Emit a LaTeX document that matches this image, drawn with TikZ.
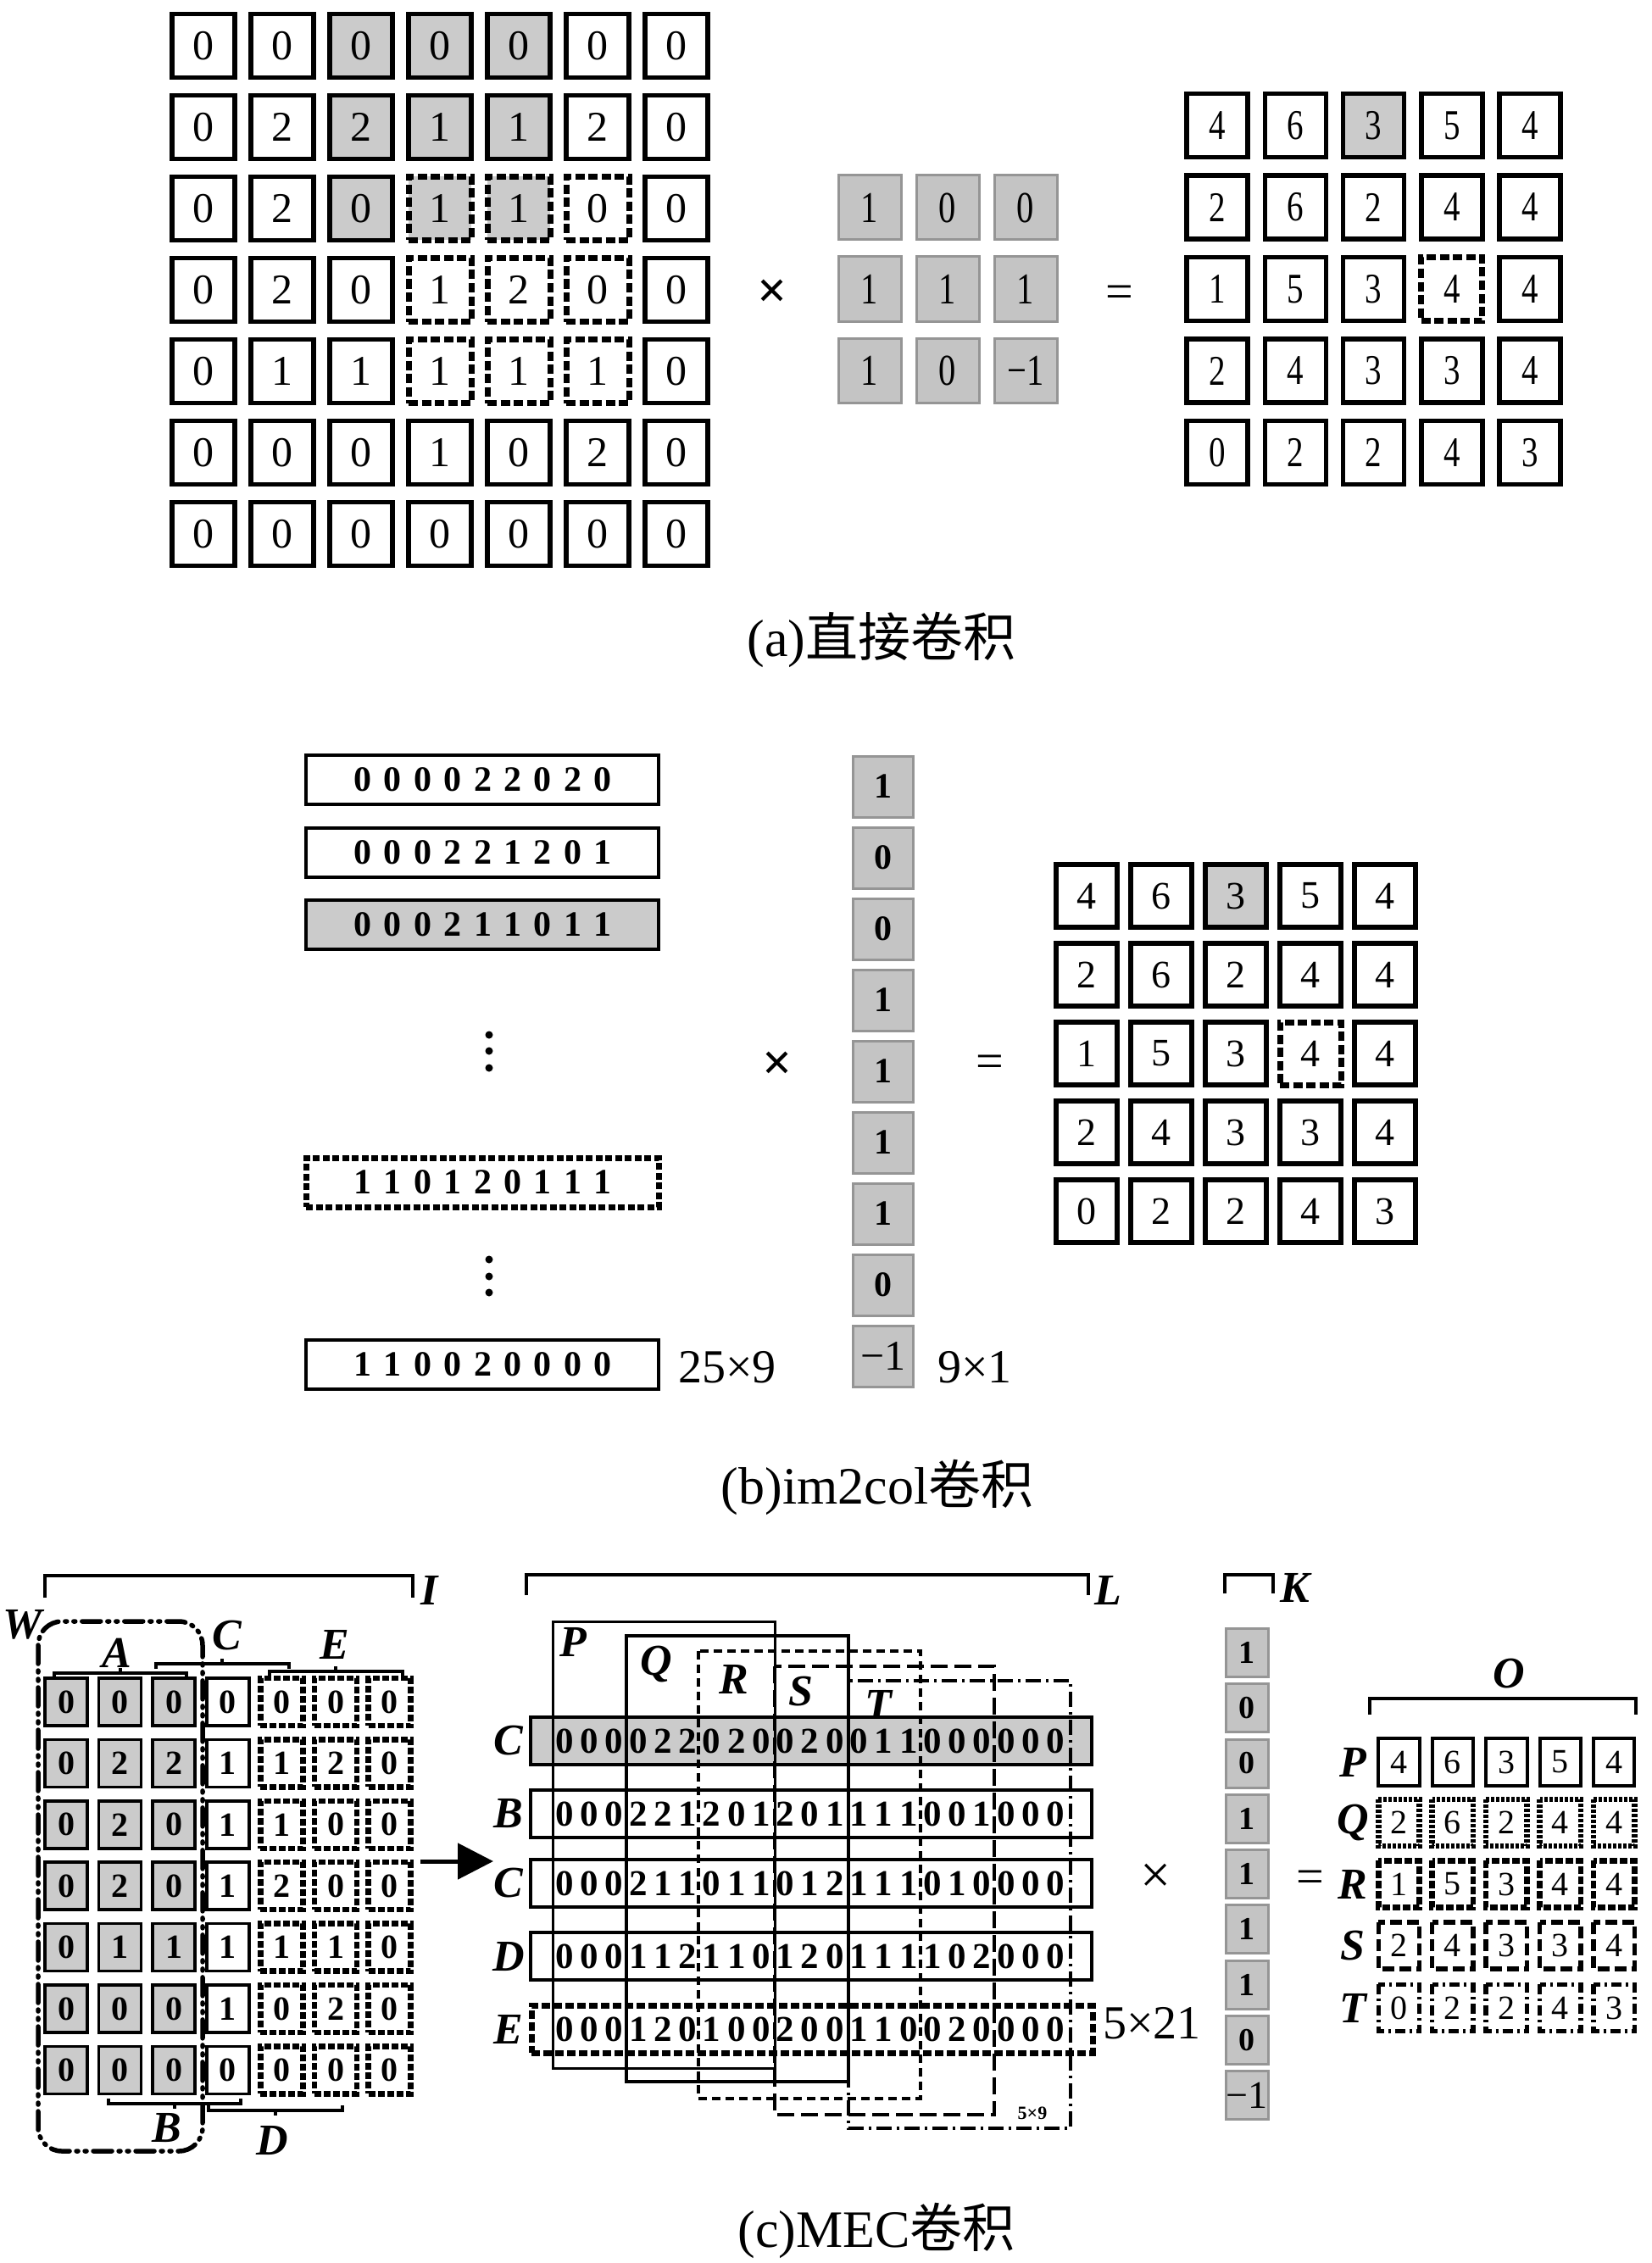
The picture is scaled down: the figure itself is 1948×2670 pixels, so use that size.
\documentclass[tikz,border=0pt]{standalone}
\usepackage{fontspec}
\usepackage{graphicx}
\setmainfont{Liberation Serif}
\newfontfamily\cjk{Noto Sans CJK SC}
\usetikzlibrary{arrows.meta}
\newcommand{\myfs}[1]{\fontsize{#1}{#1}\selectfont}
\newcommand{\cnd}[1]{\scalebox{0.78}[1]{#1}}
\definecolor{gfill}{HTML}{CBCBCB}
\definecolor{kfill}{HTML}{C4C4C4}
\definecolor{kline}{HTML}{959595}
\begin{document}
\begin{tikzpicture}[x=1pt,y=-1pt,
  cellA/.style={draw, line width=5.5pt, minimum width=74pt, minimum height=75pt, inner sep=0pt, fill=white, font=\myfs{50}},
  dashA/.style={line width=7pt, dash pattern=on 11pt off 4.5pt},
  agrid/.code 2 args={\pgfkeysalso{cellA}%
    \ifnum#1<3 \ifnum#2>1 \ifnum#2<5 \pgfkeysalso{fill=gfill}\fi\fi\fi
    \ifnum#1>1 \ifnum#1<5 \ifnum#2>2 \ifnum#2<6 \pgfkeysalso{dashA}\fi\fi\fi\fi},
  kerA/.style={draw=kline, fill=kfill, line width=3pt, minimum width=74pt, minimum height=76pt, inner sep=0pt, font=\myfs{52}},
  rgrid/.code 2 args={\pgfkeysalso{cellA, minimum width=72pt, minimum height=75pt}%
    \ifnum#1=0 \ifnum#2=2 \pgfkeysalso{fill=gfill}\fi\fi
    \ifnum#1=2 \ifnum#2=3 \pgfkeysalso{dashA}\fi\fi},
  rgridb/.code 2 args={\pgfkeysalso{cellA, minimum width=72pt, minimum height=74pt, font=\myfs{46}}%
    \ifnum#1=0 \ifnum#2=2 \pgfkeysalso{fill=gfill}\fi\fi
    \ifnum#1=2 \ifnum#2=3 \pgfkeysalso{dashA}\fi\fi},
  rowB/.style={draw, line width=4.5pt, minimum width=416pt, minimum height=58pt, inner sep=0pt, fill=white},
  digB/.style={font=\myfs{42}\bfseries, inner sep=0pt},
  kerB/.style={draw=kline, fill=kfill, line width=3pt, minimum width=71pt, minimum height=72pt, inner sep=0pt, font=\myfs{42}\bfseries},
  cellC/.style={draw, line width=3.5pt, minimum width=50pt, minimum height=56pt, inner sep=0pt, fill=white, font=\myfs{40}\bfseries},
  dashC/.style={line width=6.5pt, dash pattern=on 8pt off 3pt},
  cgrid/.code 2 args={\pgfkeysalso{cellC}%
    \ifnum#2<3 \pgfkeysalso{fill=gfill}\fi
    \ifnum#2>3 \pgfkeysalso{dashC}\fi},
  lab/.style={font=\myfs{52}\bfseries\itshape, inner sep=0pt},
  rowC/.style={draw, line width=3.5pt, minimum width=662pt, minimum height=56pt, inner sep=0pt},
  digC/.style={font=\myfs{43}\bfseries, inner sep=0pt},
  kerC/.style={draw=kline, fill=kfill, line width=3pt, minimum width=50pt, minimum height=57pt, inner sep=0pt, font=\myfs{38}\bfseries},
  outC/.style={minimum width=53pt, minimum height=60pt, inner sep=0pt, font=\myfs{40}},
  oP/.style={line width=4pt},
  oQ/.style={line width=6.5pt, dash pattern=on 4pt off 2pt},
  oR/.style={line width=6.5pt, dash pattern=on 9pt off 3pt},
  oS/.style={line width=5.5pt, dash pattern=on 14pt off 6pt},
  oT/.style={line width=5.5pt, dash pattern=on 12pt off 5pt on 3pt off 5pt},
  ostyle/.style={o#1},
  brk/.style={line width=4.5pt},
  sbrk/.style={line width=3.5pt},
  sym/.style={inner sep=0pt}
]
\fill[white] (0,0) rectangle (1948,2670);
\useasboundingbox (0,0) rectangle (1948,2670);

% ================= (a) =================
\foreach \row [count=\i from 0] in {{0,0,0,0,0,0,0},{0,2,2,1,1,2,0},{0,2,0,1,1,0,0},{0,2,0,1,2,0,0},{0,1,1,1,1,1,0},{0,0,0,1,0,2,0},{0,0,0,0,0,0,0}}{
  \foreach \v [count=\j from 0] in \row {
    \node[agrid={\i}{\j}] (a-\i-\j) at ({240+93*\j},{54+96*\i}) {\v};
  }
}
\foreach \row [count=\i from 0] in {{1,0,0},{1,1,1},{1,0,−1}}{
  \foreach \v [count=\j from 0] in \row {
    \node[kerA] (ka-\i-\j) at ({1026+92*\j},{245+96*\i}) {\cnd{\v}};
  }
}
\foreach \row [count=\i from 0] in {{4,6,3,5,4},{2,6,2,4,4},{1,5,3,4,4},{2,4,3,3,4},{0,2,2,4,3}}{
  \foreach \v [count=\j from 0] in \row {
    \node[rgrid={\i}{\j}] (ra-\i-\j) at ({1436+92.3*\j},{148+96.5*\i}) {\cnd{\v}};
  }
}
\node[sym] (xa) at (911,347) {\myfs{62}\bfseries ×};
\node[sym] (ea) at (1321,350) {\myfs{58}=};
\node[sym] (capA) at (1040,755) {\myfs{62}(a){\cjk 直接卷积}};

% ================= (b) =================
\node[rowB] (b1) at (569,920) {};
\node[rowB] (b2) at (569,1006) {};
\node[rowB, fill=gfill] (b3) at (569,1091) {};
\node[rowB, line width=7pt, dash pattern=on 8pt off 3.5pt] (b4) at (569,1395) {};
\node[rowB] (b5) at (569,1610) {};
\foreach \row/\yy/\nm in {{0,0,0,0,2,2,0,2,0}/920/r1,{0,0,0,2,2,1,2,0,1}/1006/r2,{0,0,0,2,1,1,0,1,1}/1091/r3,{1,1,0,1,2,0,1,1,1}/1395/r4,{1,1,0,0,2,0,0,0,0}/1610/r5}{
  \foreach \v [count=\k from 0] in \row {
    \node[digB] (bd-\nm-\k) at ({428+35.4*\k},\yy) {\v};
  }
}
\foreach \yy in {1221,1240,1260,1486,1506,1525}{
  \fill (577,\yy) circle (4.5pt);
}
\foreach \v [count=\k from 0] in {1,0,0,1,1,1,1,0}{
  \node[kerB] (kb-\k) at (1042,{928+84*\k}) {\v};
}
\node[kerB, font=\myfs{50}] (kb-8) at (1042,1600) {−1};
\node[sym] (xb) at (917,1258) {\myfs{62}\bfseries ×};
\node[sym] (eb) at (1168,1258) {\myfs{58}=};
\node[sym] (sb1) at (858,1613) {\myfs{56}25×9};
\node[sym] (sb2) at (1150,1613) {\myfs{56}9×1};
\foreach \row [count=\i from 0] in {{4,6,3,5,4},{2,6,2,4,4},{1,5,3,4,4},{2,4,3,3,4},{0,2,2,4,3}}{
  \foreach \v [count=\j from 0] in \row {
    \node[rgridb={\i}{\j}] (rb-\i-\j) at ({1282+88*\j},{1057+93*\i}) {\v};
  }
}
\node[sym] (capB) at (1035,1755) {\myfs{62}(b)im2col{\cjk 卷积}};

% ================= (c) =================
\draw[brk] (53,1885) -- (53,1859) -- (487,1859) -- (487,1885);
\node[lab] (lI) at (507,1876) {I};
\node[lab] (lW) at (27,1917) {W};
\foreach \row [count=\i from 0] in {{0,0,0,0,0,0,0},{0,2,2,1,1,2,0},{0,2,0,1,1,0,0},{0,2,0,1,2,0,0},{0,1,1,1,1,1,0},{0,0,0,1,0,2,0},{0,0,0,0,0,0,0}}{
  \foreach \v [count=\j from 0] in \row {
    \node[cgrid={\i}{\j}] (c-\i-\j) at ({78+63.6*\j},{2008+72.4*\i}) {\v};
  }
}
\draw[line width=5.5pt, line cap=round, rounded corners=28pt, dash pattern=on 22pt off 8pt on 2pt off 8pt on 2pt off 8pt] (45,1913) rectangle (239,2538);
\draw[sbrk] (64,1980) -- (64,1974) -- (220,1974) -- (220,1980); \draw[sbrk] (142,1974) -- (142,1968);
\draw[sbrk] (184,1969) -- (184,1963) -- (341,1963) -- (341,1969); \draw[sbrk] (262,1963) -- (262,1957);
\draw[sbrk] (318,1978) -- (318,1972) -- (475,1972) -- (475,1978); \draw[sbrk] (396,1972) -- (396,1966);
\draw[sbrk] (128,2476) -- (128,2482) -- (284,2482) -- (284,2476); \draw[sbrk] (206,2482) -- (206,2488);
\draw[sbrk] (246,2484) -- (246,2490) -- (404,2490) -- (404,2484); \draw[sbrk] (325,2490) -- (325,2496);
\node[lab] (lA) at (138,1950) {A};
\node[lab] (lC) at (268,1930) {C};
\node[lab] (lE) at (395,1940) {E};
\node[lab] (lB) at (197,2511) {B};
\node[lab] (lD) at (321,2525) {D};
\coordinate (arS) at (496,2196);
\coordinate (arE) at (582,2196);
\draw[line width=5pt, -{Triangle[length=42pt,width=42pt]}] (arS) -- (arE);
\draw[brk] (621,1882) -- (621,1858) -- (1284,1858) -- (1284,1882);
\node[lab] (lL) at (1307,1876) {L};
\node[rowC, fill=gfill] (cr1) at (957,2054) {};
\node[rowC, fill=white] (cr2) at (957,2140) {};
\node[rowC, fill=white] (cr3) at (957,2222) {};
\node[rowC, fill=white] (cr4) at (957,2308) {};
\node[rowC, fill=white, line width=7pt, dash pattern=on 10pt off 4pt] (cr5) at (958,2394) {};
\node[lab] (rl1) at (600,2054) {C};
\node[lab] (rl2) at (600,2140) {B};
\node[lab] (rl3) at (600,2222) {C};
\node[lab] (rl4) at (600,2308) {D};
\node[lab] (rl5) at (600,2394) {E};
\draw[line width=3pt] (652,1913) rectangle (914,2440);
\draw[line width=4.5pt] (739,1930) rectangle (1001,2456);
\draw[line width=4.5pt, dash pattern=on 10pt off 6pt] (824,1948) rectangle (1086,2476);
\draw[line width=4.5pt, dash pattern=on 20pt off 8pt] (914,1966) rectangle (1173,2495);
\draw[line width=3.5pt, dash pattern=on 18pt off 6pt on 3pt off 6pt] (1001,1983) rectangle (1263,2511);
\node[lab] (lP) at (676,1937) {P};
\node[lab] (lQ) at (774,1963) {Q};
\node[lab] (lR) at (866,1981) {R};
\node[lab] (lS) at (945,1996) {S};
\node[lab] (lT) at (1036,2011) {T};
\foreach \row/\yy/\nm in {{0,0,0,0,2,2,0,2,0,0,2,0,0,1,1,0,0,0,0,0,0}/2054/q1,{0,0,0,2,2,1,2,0,1,2,0,1,1,1,1,0,0,1,0,0,0}/2140/q2,{0,0,0,2,1,1,0,1,1,0,1,2,1,1,1,0,1,0,0,0,0}/2222/q3,{0,0,0,1,1,2,1,1,0,1,2,0,1,1,1,1,0,2,0,0,0}/2308/q4,{0,0,0,1,2,0,1,0,0,2,0,0,1,1,0,0,2,0,0,0,0}/2394/q5}{
  \foreach \v [count=\k from 0] in \row {
    \node[digC] (cd-\nm-\k) at ({666+86.8*floor(\k/3)+29.3*mod(\k,3)},\yy) {\v};
  }
}
\node[sym] (s59) at (1218,2493) {\myfs{22}\bfseries 5×9};
\node[sym] (s521) at (1359,2387) {\myfs{56}5×21};
\node[sym] (xc) at (1364,2216) {\myfs{64}×};
\draw[brk] (1445,1880) -- (1445,1858) -- (1502,1858) -- (1502,1880);
\node[lab] (lK) at (1528,1873) {K};
\foreach \v [count=\k from 0] in {1,0,0,1,1,1,1,0}{
  \node[kerC] (kc-\k) at (1471,{1950+65.25*\k}) {\v};
}
\node[kerC, font=\myfs{46}] (kc-8) at (1471,2472) {−1};
\node[sym] (ec) at (1546,2220) {\myfs{58}=};
\draw[brk] (1616,2023) -- (1616,2004) -- (1930,2004) -- (1930,2023);
\node[lab] (lO) at (1780,1975) {O};
\foreach \row/\nm/\yy in {{4,6,3,5,4}/P/2079,{2,6,2,4,4}/Q/2150.5,{1,5,3,4,4}/R/2223,{2,4,3,3,4}/S/2295.5,{0,2,2,4,3}/T/2369}{
  \node[lab] (ol-\nm) at (1596,\yy) {\nm};
  \foreach \v [count=\j from 0] in \row {
    \node[outC] (o-\nm-\j) at ({1650.5+63.4*\j},\yy) {\v};
    \draw[ostyle=\nm] ([xshift=2.5pt,yshift=-2.5pt]o-\nm-\j.north west) rectangle ([xshift=-2.5pt,yshift=2.5pt]o-\nm-\j.south east);
  }
}
\node[sym] (capC) at (1034,2632) {\myfs{62}(c)MEC{\cjk 卷积}};
\end{tikzpicture}
\end{document}
